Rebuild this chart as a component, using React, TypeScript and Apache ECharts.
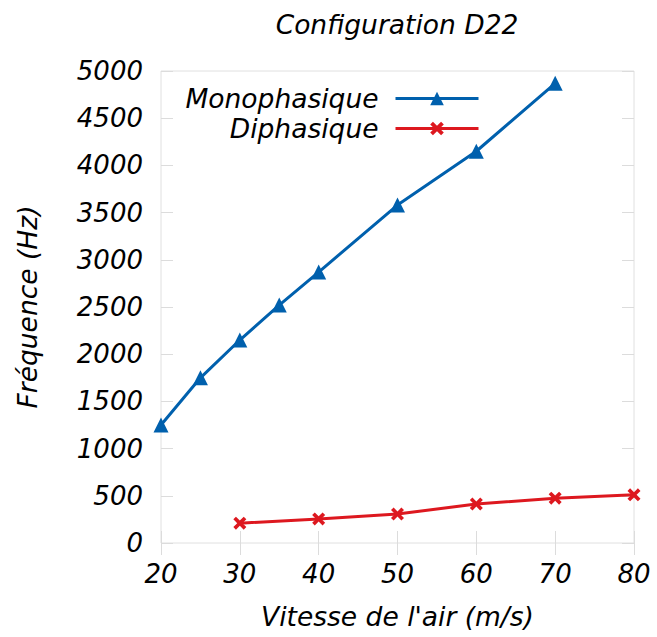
import React, { useEffect, useRef } from "react";
import * as echarts from "echarts";

const monoX = [20, 25, 30, 35, 40, 50, 60, 70];
const monoY = [1250, 1750, 2150, 2520, 2870, 3580, 4150, 4870];
const diX = [30, 40, 50, 60, 70, 80];
const diY = [210, 255, 307, 413, 475, 510];

const FONT = "DejaVu Sans";
const BLUE = "#0060ad";
const RED = "#dd181f";
const CROSS = "path://M0,2 L2,0 L5,3 L8,0 L10,2 L7,5 L10,8 L8,10 L5,7 L2,10 L0,8 L3,5 Z";

export default function App() {
  const ref = useRef<HTMLDivElement>(null);
  useEffect(() => {
    const chart = echarts.init(ref.current!, null, { renderer: "svg" });
    const tickStyle = { show: true, inside: true, length: 12, lineStyle: { color: "#dcdcdc", width: 1 } };
    const txt = { fontFamily: FONT, fontStyle: "italic" as const, fontSize: 26, color: "#000" };
    const nameTxt = { ...txt, fontSize: 26.5 };
    const legendCommon = {
      right: 177,
      align: "right",
      padding: 0,
      itemWidth: 83,
      itemHeight: 17,
      lineStyle: { width: 3 },
      textStyle: { ...nameTxt, padding: [0, 12, 0, 0] },
    };
    chart.setOption({
      animation: false,
      backgroundColor: "#fff",
      grid: { left: 161, right: 23, top: 71, bottom: 94, show: true, borderColor: "#e0e0e0", borderWidth: 1 },
      graphic: [
        {
          type: "text",
          x: 397,
          y: 24,
          style: { text: "Configuration D22", font: `italic 26.5px "${FONT}"`, fill: "#000", textAlign: "center", textVerticalAlign: "middle" },
        },
      ],
      legend: [
        { ...legendCommon, data: ["Monophasique"], top: 85 },
        { ...legendCommon, data: ["Diphasique"], top: 115 },
      ],
      xAxis: [
        {
          type: "value",
          min: 20,
          max: 80,
          interval: 10,
          name: "Vitesse de l'air (m/s)",
          nameLocation: "middle",
          nameGap: 60,
          nameTextStyle: nameTxt,
          axisLine: { show: false },
          axisTick: tickStyle,
          splitLine: { show: false },
          axisLabel: { ...txt, margin: 18, formatter: (v: number) => String(v) },
        },
        {
          type: "value",
          position: "top",
          min: 20,
          max: 80,
          interval: 10,
          axisLine: { show: false },
          axisTick: tickStyle,
          splitLine: { show: false },
          axisLabel: { show: false },
        },
      ],
      yAxis: [
        {
          type: "value",
          min: 0,
          max: 5000,
          interval: 500,
          name: "Fréquence (Hz)",
          nameLocation: "middle",
          nameGap: 120,
          nameTextStyle: nameTxt,
          axisLine: { show: false },
          axisTick: tickStyle,
          splitLine: { show: false },
          axisLabel: { ...txt, margin: 18, formatter: (v: number) => String(v) },
        },
        {
          type: "value",
          position: "right",
          min: 0,
          max: 5000,
          interval: 500,
          axisLine: { show: false },
          axisTick: tickStyle,
          splitLine: { show: false },
          axisLabel: { show: false },
        },
      ],
      series: [
        {
          name: "Monophasique",
          type: "line",
          data: monoX.map((x, i) => [x, monoY[i]]),
          symbol: "triangle",
          symbolSize: 15,
          showAllSymbol: true,
          lineStyle: { color: BLUE, width: 3 },
          itemStyle: { color: BLUE },
        },
        {
          name: "Diphasique",
          type: "line",
          data: diX.map((x, i) => [x, diY[i]]),
          symbol: CROSS,
          symbolSize: 13,
          showAllSymbol: true,
          lineStyle: { color: RED, width: 3 },
          itemStyle: { color: RED },
        },
      ],
    });
    return () => chart.dispose();
  }, []);
  return <div ref={ref} style={{ position: "fixed", left: 0, top: 0, width: 657, height: 637 }} />;
}
